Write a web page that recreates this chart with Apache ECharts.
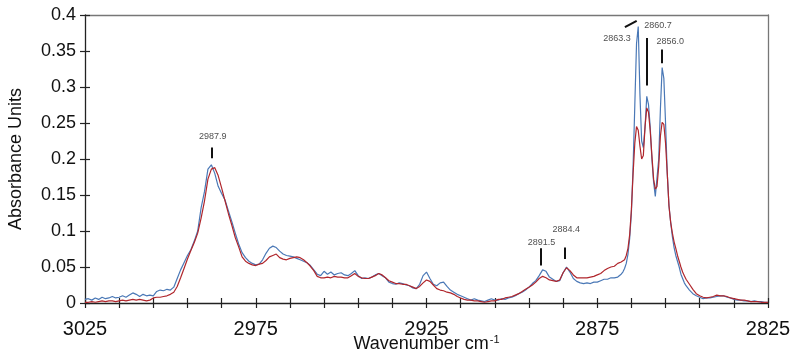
<!DOCTYPE html>
<html>
<head>
<meta charset="utf-8">
<script src="https://cdn.jsdelivr.net/npm/echarts@6/dist/echarts.min.js"></script>
<style>
html,body{margin:0;padding:0;background:#fff;}
#chart{width:791px;height:353px;}
</style>
</head>
<body>
<div id="chart"></div>
<script>
// Wavenumber grid: 3025..2873 step 1, 2872.5..2849.5 step 0.5, 2849..2825 step 1
const wavenumbers = [];
for (let w = 3025; w >= 2873; w -= 1) wavenumbers.push(w);
for (let w = 2872.5; w >= 2849.5; w -= 0.5) wavenumbers.push(w);
for (let w = 2849; w >= 2825; w -= 1) wavenumbers.push(w);

const blueValues = [
  // 3025 .. 2873
  0.005,0.006,0.004,0.007,0.005,0.008,0.006,0.007,0.009,0.007,
  0.008,0.010,0.008,0.011,0.014,0.012,0.009,0.012,0.010,0.011,
  0.010,0.016,0.018,0.017,0.019,0.018,0.022,0.034,0.046,0.056,
  0.066,0.074,0.086,0.100,0.132,0.155,0.186,0.192,0.180,0.162,
  0.152,0.143,0.128,0.113,0.097,0.082,0.070,0.063,0.058,0.055,
  0.053,0.054,0.060,0.069,0.076,0.079,0.077,0.072,0.068,0.066,
  0.065,0.064,0.062,0.060,0.058,0.056,0.052,0.046,0.040,0.038,
  0.044,0.040,0.043,0.039,0.041,0.042,0.039,0.038,0.041,0.045,
  0.038,0.034,0.035,0.034,0.036,0.039,0.041,0.038,0.035,0.029,
  0.027,0.026,0.028,0.027,0.025,0.024,0.021,0.020,0.026,0.038,
  0.043,0.034,0.026,0.024,0.028,0.029,0.023,0.018,0.015,0.012,
  0.010,0.008,0.006,0.004,0.006,0.004,0.003,0.002,0.004,0.006,
  0.004,0.004,0.006,0.005,0.007,0.008,0.010,0.013,0.015,0.018,
  0.022,0.027,0.031,0.038,0.046,0.044,0.036,0.033,0.030,0.031,
  0.042,0.050,0.043,0.034,0.030,0.028,0.027,0.028,0.027,0.029,
  0.029,0.031,0.033,
  // 2872.5 .. 2849.5
  0.034,0.033,0.035,0.035,0.036,0.035,0.037,0.036,0.038,0.040,
  0.043,0.048,0.055,0.068,0.090,0.125,0.190,0.275,0.360,0.384,
  0.290,0.225,0.216,0.245,0.287,0.276,0.245,0.200,0.168,0.148,
  0.146,0.200,0.270,0.327,0.312,0.250,0.180,0.135,0.112,0.092,
  0.077,0.066,0.058,0.050,0.040,0.034,0.028,
  // 2849 .. 2825
  0.024,0.018,0.013,0.010,0.008,0.006,0.007,0.007,0.008,0.009,
  0.010,0.010,0.008,0.007,0.005,0.004,0.004,0.003,0.003,0.002,
  0.003,0.002,0.002,0.001,0.001
];

const redValues = [
  // 3025 .. 2873
  0.001,0.001,0.002,0.001,0.002,0.003,0.002,0.003,0.003,0.002,
  0.003,0.004,0.003,0.004,0.005,0.004,0.005,0.004,0.003,0.004,
  0.007,0.008,0.008,0.009,0.010,0.012,0.015,0.023,0.035,0.048,
  0.061,0.073,0.084,0.097,0.118,0.142,0.172,0.186,0.188,0.177,
  0.160,0.142,0.124,0.108,0.091,0.078,0.064,0.058,0.055,0.053,
  0.052,0.054,0.055,0.059,0.064,0.066,0.068,0.063,0.061,0.060,
  0.062,0.063,0.064,0.063,0.060,0.056,0.051,0.045,0.037,0.035,
  0.035,0.036,0.035,0.037,0.036,0.036,0.035,0.035,0.038,0.041,
  0.037,0.035,0.034,0.034,0.036,0.038,0.041,0.039,0.035,0.031,
  0.029,0.027,0.027,0.026,0.026,0.024,0.022,0.020,0.023,0.028,
  0.032,0.030,0.025,0.020,0.018,0.017,0.015,0.014,0.012,0.009,
  0.007,0.005,0.004,0.004,0.003,0.003,0.002,0.001,0.002,0.003,
  0.003,0.005,0.005,0.007,0.008,0.009,0.011,0.013,0.016,0.019,
  0.022,0.025,0.029,0.034,0.037,0.035,0.032,0.031,0.030,0.032,
  0.042,0.049,0.045,0.039,0.035,0.035,0.035,0.035,0.036,0.037,
  0.039,0.041,0.045,
  // 2872.5 .. 2849.5
  0.047,0.048,0.049,0.050,0.052,0.051,0.053,0.055,0.055,0.057,
  0.058,0.060,0.066,0.076,0.095,0.130,0.180,0.222,0.245,0.240,
  0.218,0.200,0.205,0.245,0.271,0.265,0.240,0.205,0.172,0.158,
  0.162,0.190,0.232,0.251,0.248,0.222,0.180,0.135,0.112,0.097,
  0.085,0.076,0.066,0.058,0.050,0.043,0.038,
  // 2849 .. 2825
  0.033,0.026,0.019,0.013,0.010,0.008,0.007,0.008,0.009,0.011,
  0.010,0.010,0.009,0.007,0.006,0.005,0.004,0.004,0.003,0.002,
  0.002,0.002,0.001,0.001,0.001
];

const xTickValues = [2825,2835,2845,2855,2865,2875,2885,2895,2905,2915,2925,2935,2945,2955,2965,2975,2985,2995,3005,3015,3025];
const xLabelValues = [2825,2875,2925,2975,3025];

// Peak annotations (data coordinates)
const annLabels = ['2987.9','2891.5','2884.4','2863.3','2860.7','2856.0'];
const annX1 = [2987.9, 2891.5, 2884.4, 2863.45, 2860.4, 2856.0];
const annY1 = [0.216, 0.076, 0.077, 0.392, 0.368, 0.352];
const annX2 = [2987.9, 2891.5, 2884.4, 2866.9, 2860.4, 2856.0];
const annY2 = [0.201, 0.052, 0.061, 0.383, 0.302, 0.333];
const annLabelX = [2987.6, 2891.3, 2884.1, 2869.2, 2857.2, 2853.6];
const annLabelY = [0.231, 0.084, 0.102, 0.368, 0.386, 0.363];

const bluePts = wavenumbers.map((w, i) => [w, blueValues[i]]);
const redPts = wavenumbers.map((w, i) => [w, redValues[i]]);

const annLines = annLabels.map((t, i) => [
  { coord: [annX1[i], annY1[i]] },
  { coord: [annX2[i], annY2[i]] }
]);
const annPoints = annLabels.map((t, i) => ({ value: [annLabelX[i], annLabelY[i]], name: t }));

const font = 'Liberation Sans, Arial, sans-serif';
const chart = echarts.init(document.getElementById('chart'));
const common = { min: 2825, max: 3025, inverse: true, type: 'value' };
chart.setOption({
  animation: false,
  backgroundColor: '#fff',
  grid: { left: 85, right: 23, top: 15, bottom: 50, containLabel: false, outerBoundsMode: 'none' },
  xAxis: [
    Object.assign({}, common, {
      position: 'bottom',
      name: '{a|Wavenumber cm}{b|-1}',
      nameLocation: 'middle',
      nameGap: 31,
      nameMoveOverlap: false,
      nameTextStyle: {
        rich: {
          a: { fontSize: 18, fontFamily: font, color: '#111' },
          b: { fontSize: 11, fontFamily: font, color: '#111', verticalAlign: 'top', padding: [0, 0, 9, 1] }
        }
      },
      splitLine: { show: false },
      axisLine: { show: true, onZero: false, lineStyle: { color: '#222', width: 1.3 } },
      axisTick: { show: true, inside: false, length: 5, customValues: xTickValues, lineStyle: { color: '#222', width: 1.2 } },
      axisLabel: { show: true, customValues: xLabelValues, formatter: v => String(v), margin: 16, fontSize: 20, fontFamily: font, color: '#111' }
    }),
    Object.assign({}, common, {
      position: 'bottom',
      splitLine: { show: false },
      axisLine: { show: false, onZero: false },
      axisTick: { show: true, inside: true, length: 5, customValues: xTickValues, lineStyle: { color: '#222', width: 1.2 } },
      axisLabel: { show: false }
    }),
    Object.assign({}, common, {
      position: 'top',
      splitLine: { show: false },
      axisLine: { show: true, onZero: false, lineStyle: { color: '#777', width: 1.3 } },
      axisTick: { show: false },
      axisLabel: { show: false }
    })
  ],
  yAxis: [
    {
      type: 'value', min: 0, max: 0.4, interval: 0.05, position: 'left',
      name: 'Absorbance Units', nameLocation: 'middle', nameGap: 60, nameRotate: 90,
      nameMoveOverlap: false,
      nameTextStyle: { fontSize: 18, fontFamily: font, color: '#111' },
      splitLine: { show: false },
      axisLine: { show: true, onZero: false, lineStyle: { color: '#222', width: 1.3 } },
      axisTick: { show: true, inside: false, length: 5, lineStyle: { color: '#222', width: 1.2 } },
      axisLabel: { margin: 9, fontSize: 18, fontFamily: font, color: '#111' }
    },
    {
      type: 'value', min: 0, max: 0.4, interval: 0.05, position: 'left',
      splitLine: { show: false },
      axisLine: { show: false, onZero: false },
      axisTick: { show: true, inside: true, length: 5, lineStyle: { color: '#222', width: 1.2 } },
      axisLabel: { show: false }
    },
    {
      type: 'value', min: 0, max: 0.4, interval: 0.05, position: 'right',
      splitLine: { show: false },
      axisLine: { show: true, onZero: false, lineStyle: { color: '#777', width: 1.3 } },
      axisTick: { show: false },
      axisLabel: { show: false }
    }
  ],
  series: [
    {
      type: 'line', name: 'blue', data: bluePts, showSymbol: false, symbol: 'none',
      lineStyle: { color: '#4a78b6', width: 1.2 }, z: 2,
      markLine: {
        silent: true, symbol: ['none', 'none'], label: { show: false },
        lineStyle: { color: '#111', width: 2, type: 'solid' },
        data: annLines
      }
    },
    {
      type: 'line', name: 'red', data: redPts, showSymbol: false, symbol: 'none',
      lineStyle: { color: '#b0262c', width: 1.2 }, z: 3
    },
    {
      type: 'scatter', name: 'labels', data: annPoints, symbolSize: 1,
      itemStyle: { color: 'rgba(0,0,0,0)' }, silent: true, z: 5,
      label: {
        show: true, position: 'inside', formatter: p => p.name,
        fontSize: 9, fontFamily: font, color: '#222'
      }
    }
  ]
});
</script>
</body>
</html>
